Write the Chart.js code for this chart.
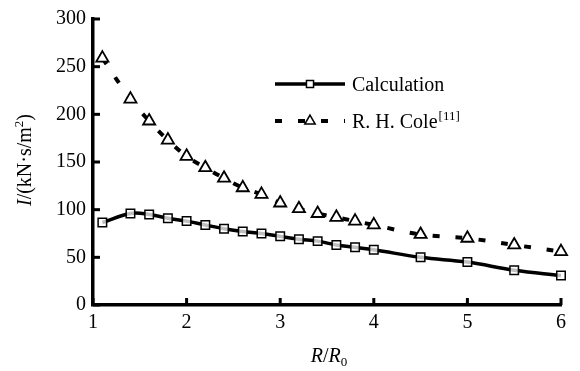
<!DOCTYPE html>
<html>
<head>
<meta charset="utf-8">
<script src="https://cdn.jsdelivr.net/npm/chart.js@4.4.0/dist/chart.umd.min.js"></script>
<style>
  body { margin: 0; background: #fff; }
  #wrap { width: 580px; height: 371px; }
</style>
</head>
<body>
<div id="wrap"><canvas id="impulseChart" width="580" height="371"></canvas></div>
<script>
// 데이터 (R/R0 별 비충격량)
const rRatio = [1.1, 1.4, 1.6, 1.8, 2.0, 2.2, 2.4, 2.6, 2.8, 3.0, 3.2, 3.4, 3.6, 3.8, 4.0, 4.5, 5.0, 5.5, 6.0];
const calcValues = [86.5, 96, 95, 91, 88, 84, 80, 77, 75, 72, 69, 67, 63, 60.5, 58, 50, 45, 36.5, 31];
const coleValues = [259, 216, 193, 173, 156, 144, 133, 123, 116, 107, 101, 96, 92, 88, 84, 74, 70, 63, 56];
const xTicks = [1, 2, 3, 4, 5, 6];
const yTicks = [0, 50, 100, 150, 200, 250, 300];
const seriesNames = ['Calculation', 'R. H. Cole'];
const coleRef = '[11]';

const FONT = '"Liberation Serif", "Times New Roman", serif';

function toPoints(xs, ys) {
    return xs.map(function (x, i) { return { x: x, y: ys[i] }; });
}

// 안쪽 눈금, 축 제목, 범례 그리기
const decorPlugin = {
    id: 'decor',
    afterDraw: function (chart) {
        const ctx = chart.ctx;
        const area = chart.chartArea;
        const xs = chart.scales.x;
        const ys = chart.scales.y;

        ctx.save();
        ctx.strokeStyle = '#000';
        ctx.lineWidth = 3;
        ctx.lineCap = 'butt';
        yTicks.forEach(function (v) {
            const py = ys.getPixelForValue(v);
            ctx.beginPath();
            ctx.moveTo(area.left, py);
            ctx.lineTo(area.left + 7, py);
            ctx.stroke();
        });
        xTicks.forEach(function (v) {
            const px = xs.getPixelForValue(v);
            ctx.beginPath();
            ctx.moveTo(px, area.bottom);
            ctx.lineTo(px, area.bottom - 7);
            ctx.stroke();
        });

        ctx.fillStyle = '#000';
        ctx.textBaseline = 'alphabetic';

        // y 축 제목
        ctx.save();
        ctx.translate(31, 160);
        ctx.rotate(-Math.PI / 2);
        const parts = [
            { t: 'I', f: 'italic 20px ' + FONT, dy: 0 },
            { t: '/(kN\u00b7s/m', f: '20px ' + FONT, dy: 0 },
            { t: '2', f: '13px ' + FONT, dy: -8 },
            { t: ')', f: '20px ' + FONT, dy: 0 }
        ];
        let total = 0;
        parts.forEach(function (p) { ctx.font = p.f; p.w = ctx.measureText(p.t).width; total += p.w; });
        let cx = -total / 2;
        parts.forEach(function (p) { ctx.font = p.f; ctx.fillText(p.t, cx, p.dy); cx += p.w; });
        ctx.restore();

        // x 축 제목
        const xparts = [
            { t: 'R', f: 'italic 20px ' + FONT, dy: 0 },
            { t: '/', f: '20px ' + FONT, dy: 0 },
            { t: 'R', f: 'italic 20px ' + FONT, dy: 0 },
            { t: '0', f: '13px ' + FONT, dy: 4 }
        ];
        total = 0;
        xparts.forEach(function (p) { ctx.font = p.f; p.w = ctx.measureText(p.t).width; total += p.w; });
        cx = 329 - total / 2;
        xparts.forEach(function (p) { ctx.font = p.f; ctx.fillText(p.t, cx, 362 + p.dy); cx += p.w; });

        // 범례
        const ds = chart.data.datasets;
        const rows = [84, 121];
        ds.forEach(function (d, i) {
            const ly = rows[i];
            ctx.save();
            ctx.strokeStyle = '#000';
            ctx.lineWidth = d.borderWidth;
            ctx.setLineDash(d.borderDash || []);
            ctx.beginPath();
            ctx.moveTo(275, ly);
            ctx.lineTo(345, ly);
            ctx.stroke();
            ctx.setLineDash([]);
            ctx.lineWidth = 1.5;
            ctx.fillStyle = '#fff';
            Chart.helpers.drawPoint(ctx, {
                pointStyle: d.pointStyle,
                radius: d.legendRadius,
                rotation: 0,
                borderWidth: 1.5
            }, 310, ly);
            ctx.restore();
        });
        ctx.font = '20px ' + FONT;
        ctx.fillStyle = '#000';
        ctx.fillText(seriesNames[0], 352, rows[0] + 7);
        ctx.fillText(seriesNames[1], 352, rows[1] + 7);
        const w2 = ctx.measureText(seriesNames[1]).width;
        ctx.font = '13px ' + FONT;
        ctx.fillText(coleRef, 352 + w2 + 1, rows[1] - 1);
        ctx.restore();
    }
};

var ctx = document.getElementById('impulseChart').getContext('2d');

var impulseChart = new Chart(ctx, {
    type: 'line',
    data: {
        datasets: [
            {
                label: seriesNames[0],
                data: toPoints(rRatio, calcValues),
                borderColor: '#000',
                backgroundColor: '#fff',
                borderWidth: 3.5,
                tension: 0.4,
                clip: false,
                pointStyle: 'rect',
                pointRadius: 6,
                legendRadius: 5,
                pointBorderWidth: 1.5,
                pointBackgroundColor: 'rgba(255,255,255,0.75)',
                pointBorderColor: '#000',
                fill: false
            },
            {
                label: seriesNames[1],
                data: toPoints(rRatio, coleValues),
                borderColor: '#000',
                backgroundColor: '#fff',
                borderWidth: 4,
                borderDash: [7, 16],
                tension: 0.4,
                clip: false,
                pointStyle: 'triangle',
                pointRadius: 7,
                legendRadius: 6,
                pointBorderWidth: 1.8,
                pointBackgroundColor: '#fff',
                pointBorderColor: '#000',
                fill: false
            }
        ]
    },
    options: {
        responsive: false,
        animation: false,
        layout: { padding: { top: 17, right: 19, left: 0, bottom: 0 } },
        plugins: {
            legend: { display: false },
            tooltip: { enabled: false }
        },
        scales: {
            x: {
                type: 'linear',
                min: 1,
                max: 6,
                afterFit: function (scale) { scale.height = 66; },
                afterBuildTicks: function (scale) { scale.ticks = xTicks.map(function (v) { return { value: v }; }); },
                grid: { display: false, drawTicks: false },
                border: { display: true, color: '#000', width: 3.5 },
                ticks: { color: '#000', font: { family: FONT, size: 20 }, padding: 6, maxRotation: 0 }
            },
            y: {
                min: 0,
                max: 300,
                afterFit: function (scale) { scale.width = 93; },
                afterBuildTicks: function (scale) { scale.ticks = yTicks.map(function (v) { return { value: v }; }); },
                grid: { display: false, drawTicks: false },
                border: { display: true, color: '#000', width: 3.5 },
                ticks: { color: '#000', font: { family: FONT, size: 20 }, padding: 7 }
            }
        }
    },
    plugins: [decorPlugin]
});
</script>
</body>
</html>
